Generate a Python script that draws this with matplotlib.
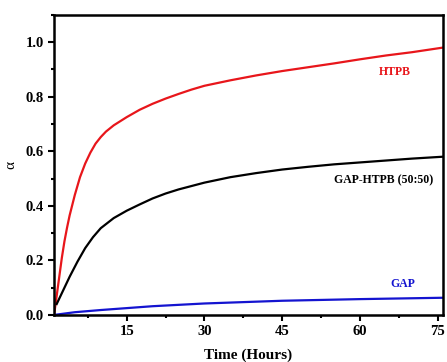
import matplotlib.pyplot as plt
from matplotlib.ticker import MultipleLocator

# values
t_htpb = [1, 1.5, 2, 2.5, 3, 3.5, 4, 5, 6, 7, 8, 9, 10, 11, 12.5, 15, 17.5, 20, 22.5, 25, 27.5,
          30, 35, 40, 45, 50, 55, 60, 65, 70, 76]
a_htpb = [0.0, 0.07, 0.14, 0.21, 0.27, 0.32, 0.365, 0.44, 0.505, 0.555, 0.595, 0.628, 0.652,
          0.672, 0.695, 0.725, 0.752, 0.774, 0.793, 0.81, 0.826, 0.84, 0.86, 0.878, 0.894, 0.908,
          0.922, 0.937, 0.951, 0.963, 0.98]

t_mix = [1.5, 2.5, 4, 5.5, 7, 8.5, 10, 12.5, 15, 17.5, 20, 22.5, 25, 30, 35, 40, 45, 50, 55,
         60, 65, 70, 76]
a_mix = [0.04, 0.08, 0.14, 0.195, 0.245, 0.285, 0.318, 0.355, 0.382, 0.405, 0.427, 0.445, 0.46,
         0.485, 0.505, 0.52, 0.533, 0.543, 0.552, 0.559, 0.566, 0.573, 0.58]

t_gap = [1, 5, 10, 15, 20, 30, 45, 60, 76]
a_gap = [0.0, 0.01, 0.018, 0.025, 0.032, 0.042, 0.052, 0.058, 0.063]

plt.rcParams['font.family'] = ['Liberation Serif', 'DejaVu Serif']

fig = plt.figure(figsize=(4.47, 3.62), dpi=100)
ax = fig.add_axes([0.121, 0.130, 0.870, 0.829])

ax.plot(t_htpb, a_htpb, color='#e8161b', lw=1.6)
ax.plot(t_mix, a_mix, color='black', lw=1.6)
ax.plot(t_gap, a_gap, color='#1414d0', lw=1.6)

ax.text(66.7, 0.89, 'HTPB', color='#e8161b', fontsize=8.5, fontweight='bold', ha='center', va='center')
ax.text(64.6, 0.494, 'GAP-HTPB (50:50)', color='black', fontsize=8.5, fontweight='bold', ha='center', va='center')
ax.text(68.3, 0.114, 'GAP', color='#1414d0', fontsize=8.5, fontweight='bold', ha='center', va='center')

ax.set_xlim(1, 76)
ax.set_ylim(0, 1.1)
ax.xaxis.set_major_locator(MultipleLocator(15))
ax.xaxis.set_minor_locator(MultipleLocator(7.5))
ax.yaxis.set_major_locator(MultipleLocator(0.2))
ax.yaxis.set_minor_locator(MultipleLocator(0.1))
ax.yaxis.set_major_formatter(plt.FormatStrFormatter('%.1f'))

ax.tick_params(which='both', direction='out', width=1.5, top=False, right=False)
ax.tick_params(which='major', length=4, labelsize=10.5)
ax.tick_params(which='minor', length=2.5)
for lab in ax.get_xticklabels() + ax.get_yticklabels():
    lab.set_fontweight('bold')
for s in ax.spines.values():
    s.set_linewidth(1.8)

ax.set_xlabel('Time (Hours)', fontsize=11, fontweight='bold', labelpad=7)
ax.set_ylabel('\u03b1', fontsize=11, labelpad=6)

fig.savefig('out.png', dpi=100)
